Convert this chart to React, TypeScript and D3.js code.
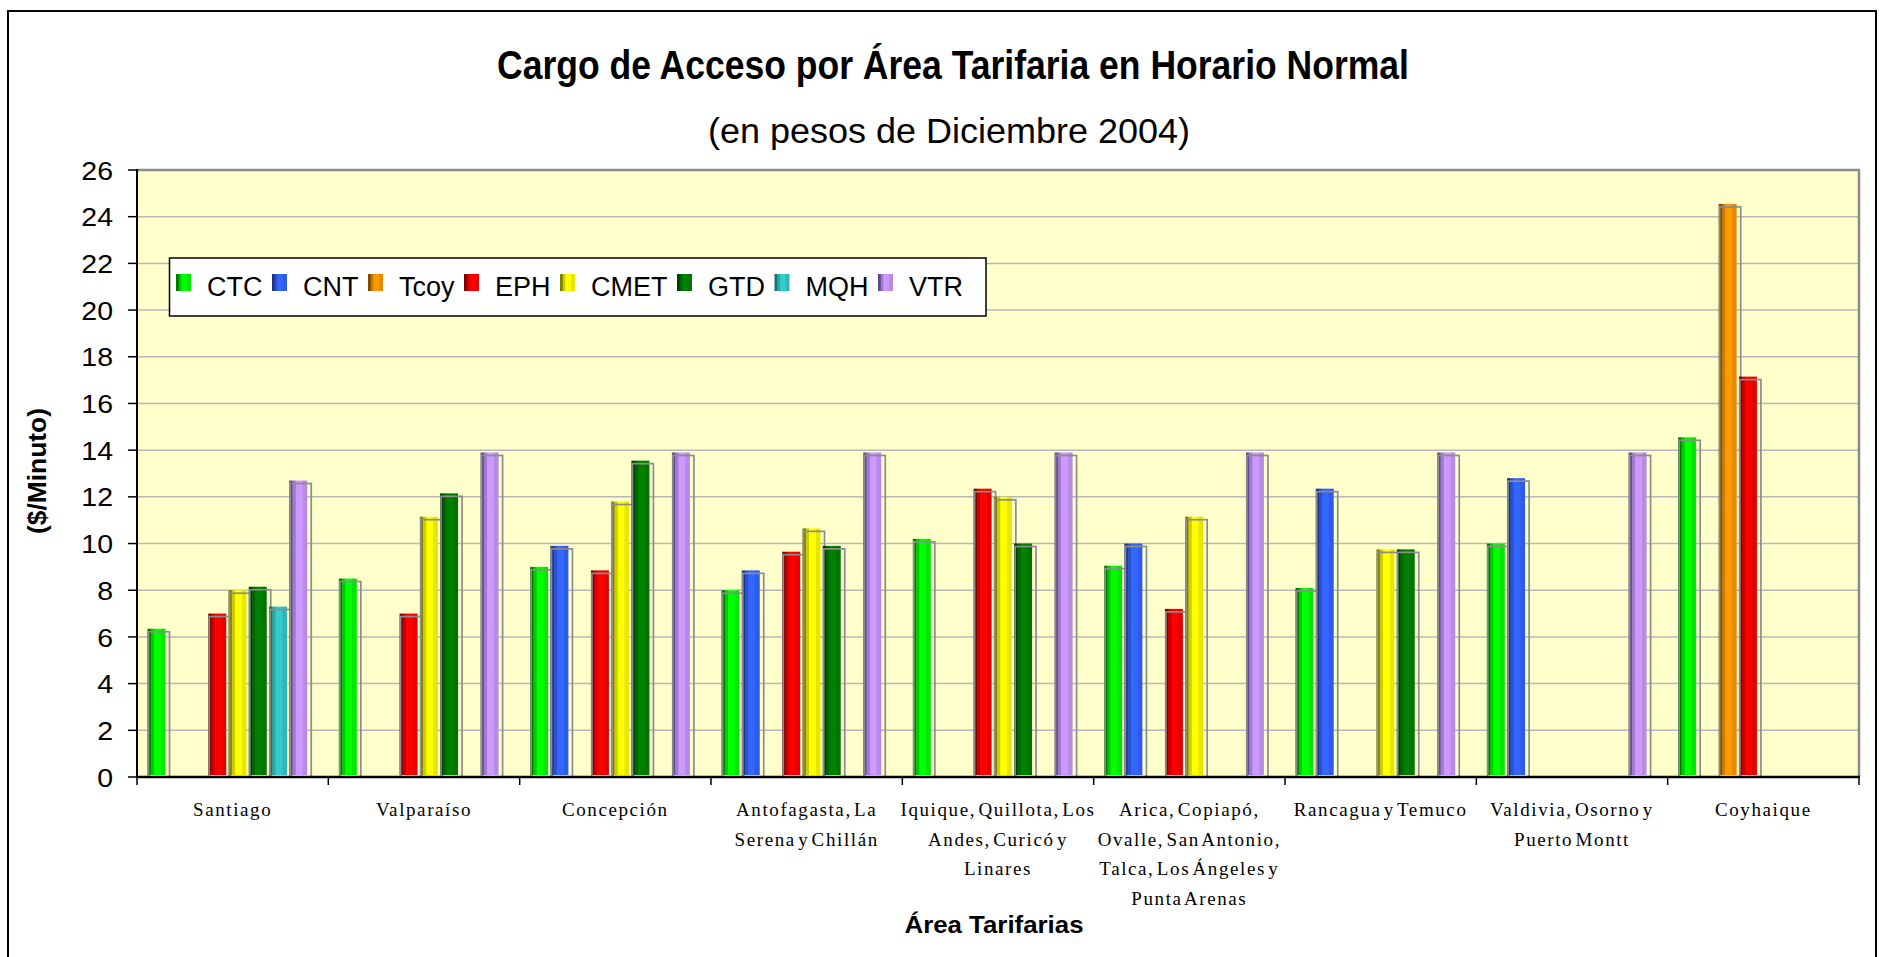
import React from "react";
import * as d3 from "d3";

const categories: string[][] = [
  ["Santiago"],
  ["Valparaíso"],
  ["Concepción"],
  ["Antofagasta, La", "Serena y Chillán"],
  ["Iquique, Quillota, Los", "Andes, Curicó y", "Linares"],
  ["Arica, Copiapó,", "Ovalle, San Antonio,", "Talca, Los Ángeles y", "Punta Arenas"],
  ["Rancagua y Temuco"],
  ["Valdivia, Osorno y", "Puerto Montt"],
  ["Coyhaique"],
];

const seriesNames = ["CTC", "CNT", "Tcoy", "EPH", "CMET", "GTD", "MQH", "VTR"];

const CTC = [6.35, 8.5, 9.0, 8.0, 10.2, 9.05, 8.1, 10.0, 14.55];
const CNT = [null, null, 9.9, 8.85, null, 10.0, 12.35, 12.8, null];
const Tcoy = [null, null, null, null, null, null, null, null, 24.55];
const EPH = [7.0, 7.0, 8.85, 9.65, 12.35, 7.2, null, null, 17.15];
const CMET = [8.0, 11.15, 11.8, 10.65, 12.0, 11.15, 9.75, null, null];
const GTD = [8.15, 12.15, 13.55, 9.9, 10.0, null, 9.75, null, null];
const MQH = [7.3, null, null, null, null, null, null, null, null];
const VTR = [12.7, 13.9, 13.9, 13.9, 13.9, 13.9, 13.9, 13.9, null];

const seriesValues: (number | null)[][] = [CTC, CNT, Tcoy, EPH, CMET, GTD, MQH, VTR];

const seriesColors = ["#00ff00", "#3366ff", "#ff9900", "#ff0000", "#ffff00", "#008000", "#33cccc", "#cc99ff"];
const seriesDark = ["#007a00", "#1a3388", "#7f4c00", "#800000", "#808000", "#004000", "#1a7070", "#5f4b8b"];

const yTicks = [0, 2, 4, 6, 8, 10, 12, 14, 16, 18, 20, 22, 24, 26];

const titleText = "Cargo de Acceso por Área Tarifaria en Horario Normal";
const subtitleText = "(en pesos de Diciembre 2004)";
const yTitleText = "($/Minuto)";
const xTitleText = "Área Tarifarias";

const SANS = "'Liberation Sans', Arial, sans-serif";
const SERIF = "'Liberation Serif', 'Times New Roman', serif";

function measure(text: string, font: string): number {
  const c = document.createElement("canvas").getContext("2d");
  if (!c) return text.length * 14;
  c.font = font;
  return c.measureText(text).width;
}

export default function App() {
  const W = 1880;
  const H = 957;
  const plot = { left: 137, right: 1859, top: 170, bottom: 777 };

  const x0 = d3
    .scaleBand<string>()
    .domain(categories.map((_, i) => String(i)))
    .range([plot.left, plot.right])
    .paddingInner(0)
    .paddingOuter(0);
  const x1 = d3.scaleBand<string>().domain(seriesNames).range([10.5, 172.5]);
  const y = d3.scaleLinear().domain([0, 26]).range([plot.bottom, plot.top]);

  const barW = 18;

  // legend layout
  const legendFont = `27px ${SANS}`;
  let lx = 176;
  const legendItems = seriesNames.map((name, i) => {
    const sx = lx;
    const tx = sx + 31;
    const w = measure(name, legendFont);
    lx = tx + w + 9.5;
    return { name, i, sx, tx };
  });

  const catBoundaries = [...x0.domain().map((d) => x0(d) as number), plot.right];

  return (
    <svg
      width={W}
      height={H}
      style={{ position: "absolute", left: 0, top: 0, display: "block", background: "#fff" }}
    >
      <defs>
        {seriesNames.map((name, i) => {
          const bright = seriesColors[i];
          const dark = seriesDark[i];
          const mid = d3.interpolateRgb(dark, bright)(0.6);
          const right = d3.interpolateRgb(bright, "#000")(0.1);
          return (
            <linearGradient key={name} id={`g${i}`} x1="0" y1="0" x2="1" y2="0">
              <stop offset="0" stopColor={dark} />
              <stop offset="0.16" stopColor={dark} />
              <stop offset="0.2" stopColor={mid} />
              <stop offset="0.34" stopColor={mid} />
              <stop offset="0.38" stopColor={bright} />
              <stop offset="0.72" stopColor={bright} />
              <stop offset="0.76" stopColor={right} />
              <stop offset="1" stopColor={right} />
            </linearGradient>
          );
        })}
      </defs>

      {/* outer frame */}
      <rect x={8} y={11} width={1868} height={980} fill="#fff" stroke="#000" strokeWidth={2} />

      {/* titles */}
      <text
        x={953}
        y={79}
        textAnchor="middle"
        fontFamily={SANS}
        fontWeight="bold"
        fontSize={40}
        textLength={912}
        lengthAdjust="spacingAndGlyphs"
      >
        {titleText}
      </text>
      <text
        x={949}
        y={143}
        textAnchor="middle"
        fontFamily={SANS}
        fontSize={35}
        textLength={482}
        lengthAdjust="spacingAndGlyphs"
      >
        {subtitleText}
      </text>

      {/* plot background */}
      <rect
        x={plot.left}
        y={plot.top}
        width={plot.right - plot.left}
        height={plot.bottom - plot.top}
        fill="#ffffcc"
      />

      {/* gridlines */}
      {yTicks
        .filter((t) => t > 0 && t < 26)
        .map((t) => (
          <line
            key={t}
            x1={plot.left}
            x2={plot.right}
            y1={y(t)}
            y2={y(t)}
            stroke="#b8b8b8"
            strokeWidth={1.5}
          />
        ))}

      {/* plot top and right border */}
      <line x1={plot.left} x2={plot.right + 1} y1={plot.top} y2={plot.top} stroke="#8a8a8a" strokeWidth={2.5} />
      <line x1={plot.right} x2={plot.right} y1={plot.top} y2={plot.bottom} stroke="#8a8a8a" strokeWidth={2.5} />

      {/* bars */}
      {categories.map((_, ci) => {
        const cx = x0(String(ci)) as number;
        return (
          <g key={ci}>
            {seriesNames.map((name, si) => {
              const v = seriesValues[si][ci];
              if (v === null || v === undefined) return null;
              const bx = cx + (x1(name) as number);
              const top = y(v);
              return (
                <g key={name}>
                  <rect
                    x={bx}
                    y={top}
                    width={barW}
                    height={y(0) - 2 - top}
                    fill={`url(#g${si})`}
                  />
                  <rect
                    x={bx + 1}
                    y={top + 3}
                    width={barW + 3}
                    height={y(0) - top - 3}
                    fill="none"
                    stroke="#8c8c8c"
                    strokeWidth={1.7}
                  />
                </g>
              );
            })}
          </g>
        );
      })}

      {/* axes */}
      <line x1={plot.left} x2={plot.left} y1={plot.top - 1} y2={plot.bottom} stroke="#000" strokeWidth={2} />
      <line x1={plot.left - 1} x2={plot.right + 1} y1={plot.bottom} y2={plot.bottom} stroke="#000" strokeWidth={2.5} />
      {yTicks.map((t) => (
        <g key={t}>
          <line x1={plot.left - 9} x2={plot.left} y1={y(t)} y2={y(t)} stroke="#000" strokeWidth={1.5} />
          <g transform={`translate(113,${y(t) + 9.6}) scale(1.14,1)`}>
            <text x={0} y={0} textAnchor="end" fontFamily={SANS} fontSize={25} fill="#000">
              {t}
            </text>
          </g>
        </g>
      ))}
      {catBoundaries.map((bx, i) => (
        <line key={i} x1={bx} x2={bx} y1={plot.bottom} y2={plot.bottom + 8} stroke="#000" strokeWidth={1.5} />
      ))}

      {/* category labels */}
      {categories.map((lines, ci) => {
        const cx = (x0(String(ci)) as number) + x0.bandwidth() / 2;
        return (
          <text
            key={ci}
            textAnchor="middle"
            fontFamily={SERIF}
            fontSize={19}
            letterSpacing={1.6}
            wordSpacing={-4}
            fill="#000"
          >
            {lines.map((ln, li) => (
              <tspan key={li} x={cx} y={816 + li * 29.7}>
                {ln}
              </tspan>
            ))}
          </text>
        );
      })}

      {/* axis titles */}
      <text
        transform={`translate(46,471) rotate(-90)`}
        textAnchor="middle"
        fontFamily={SANS}
        fontWeight="bold"
        fontSize={26}
        textLength={126}
        lengthAdjust="spacingAndGlyphs"
      >
        {yTitleText}
      </text>
      <text
        x={994}
        y={933}
        textAnchor="middle"
        fontFamily={SANS}
        fontWeight="bold"
        fontSize={24}
        textLength={179}
        lengthAdjust="spacingAndGlyphs"
      >
        {xTitleText}
      </text>

      {/* legend */}
      <rect x={169.5} y={258} width={816.5} height={58} fill="#fff" stroke="#000" strokeWidth={1.5} />
      {legendItems.map((it) => (
        <g key={it.name}>
          <rect x={it.sx} y={274} width={15} height={17} fill={`url(#g${it.i})`} />
          <text x={it.tx} y={296} fontFamily={SANS} fontSize={27} fill="#000">
            {it.name}
          </text>
        </g>
      ))}
    </svg>
  );
}
